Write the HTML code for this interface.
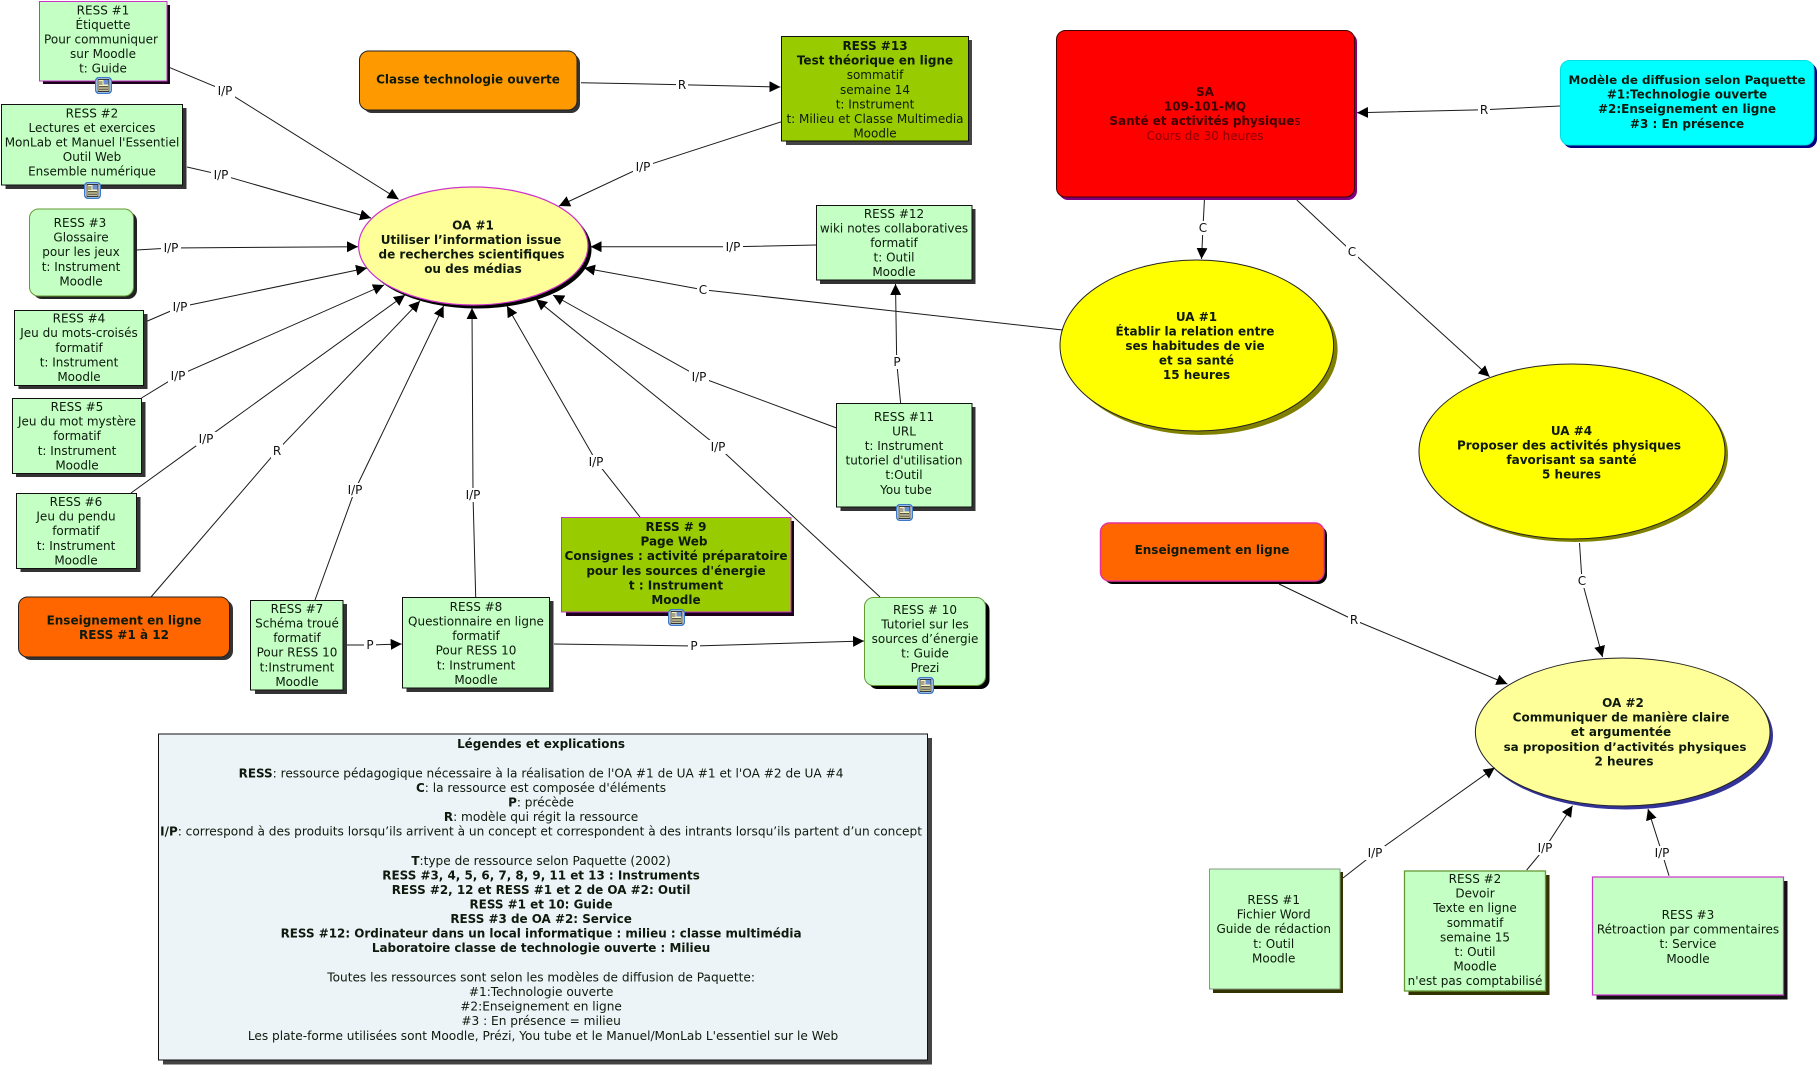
<!DOCTYPE html>
<html lang="fr"><head><meta charset="utf-8"><title>Carte</title>
<style>
html,body{margin:0;padding:0;background:#fff;width:1819px;height:1066px;overflow:hidden}
svg{display:block}
text{font-family:"DejaVu Sans","Liberation Sans",sans-serif;font-size:12px;text-anchor:middle;fill:#0d1a0d}
.b{font-weight:bold}
.l{fill:#111}
.c{fill:none;stroke:#1a1a1a;stroke-width:1;marker-end:url(#a)}
.g{fill:#C4FFC4}
.leg{font-size:12.15px}
.leg .b{font-size:11.95px}
</style></head><body>
<svg xmlns="http://www.w3.org/2000/svg" width="1819" height="1066" viewBox="0 0 1819 1066">
<defs>
<marker id="a" markerUnits="userSpaceOnUse" markerWidth="11" markerHeight="11" refX="10" refY="5" orient="auto" viewBox="0 0 10 10"><path d="M0,0L10,5L0,10z" fill="#000"/></marker>
<symbol id="ic" viewBox="0 0 17 17" width="17" height="17" overflow="visible">
<rect x=".75" y=".75" width="15.500" height="15.500" rx="3" fill="#fff" stroke="#3a78c8" stroke-width="1.500"/>
<rect x="3" y="2.500" width="11" height="12" fill="#f8f4c0" stroke="#222" stroke-width=".9"/>
<rect x="8.500" y="3" width="5" height="4.500" fill="#6a8fd0"/>
<path d="M4,9.500h9M4,11h9M4,12.800h9M4,5h3.500M4,7h3.500" stroke="#222" stroke-width=".8"/>
</symbol>
</defs>

<!-- shapes -->
<rect x="43" y="5" width="127" height="79" fill="#1a001a"/>
<rect x="39.5" y="1.5" width="127.5" height="79.5" class="g" stroke="#cc33cc"/>
<rect x="5.5" y="108" width="181" height="81" fill="#333"/>
<rect x="1.5" y="104.5" width="181" height="80.5" class="g" stroke="#111"/>
<rect x="363" y="54" width="217" height="59" rx="9" fill="#333"/>
<rect x="359.5" y="51" width="217.5" height="59" rx="9" fill="#FF9900" stroke="#222"/>
<rect x="33" y="212" width="104" height="87" rx="9" fill="#222"/>
<rect x="29.5" y="209" width="104" height="87" rx="9" class="g" stroke="#669933"/>
<rect x="18.5" y="314" width="129" height="75" fill="#333"/>
<rect x="14.5" y="310.5" width="129" height="75" class="g" stroke="#111"/>
<rect x="16" y="402" width="129.5" height="75" fill="#333"/>
<rect x="12.5" y="398.5" width="129" height="75" class="g" stroke="#111"/>
<rect x="20.5" y="497" width="120" height="75" fill="#333"/>
<rect x="16.5" y="493.5" width="120" height="75" class="g" stroke="#111"/>
<rect x="22" y="600" width="211" height="60" rx="9" fill="#333"/>
<rect x="18.5" y="597" width="211" height="60" rx="9" fill="#FF6600" stroke="#222"/>
<rect x="255" y="604" width="92" height="90" fill="#333"/>
<rect x="250.5" y="600.5" width="92.5" height="89.5" class="g" stroke="#111"/>
<rect x="406.5" y="601" width="147" height="91" fill="#333"/>
<rect x="402.5" y="597.5" width="147" height="90.5" class="g" stroke="#111"/>
<rect x="566" y="521" width="228" height="95" fill="#1a001a"/>
<rect x="561.5" y="517.5" width="229.5" height="94.5" fill="#99CC00" stroke="#cc33cc"/>
<rect x="868.5" y="601" width="121" height="88" rx="9" fill="#000"/>
<rect x="864.5" y="597.5" width="121" height="88" rx="9" class="g" stroke="#669933"/>
<rect x="840.5" y="407" width="135" height="104" fill="#333"/>
<rect x="836.5" y="403.5" width="135.5" height="103.5" class="g" stroke="#111"/>
<rect x="786" y="40" width="186" height="105" fill="#444"/>
<rect x="781.5" y="36.5" width="187" height="104.5" fill="#99CC00" stroke="#111"/>
<rect x="820" y="209" width="155.5" height="75" fill="#333"/>
<rect x="816.5" y="205.5" width="155.5" height="74.5" class="g" stroke="#111"/>
<rect x="1059" y="33" width="298" height="167" rx="9" fill="#800080"/>
<rect x="1056.5" y="30.5" width="298" height="166.5" rx="9" fill="#FF0000" stroke="#400000"/>
<rect x="1563" y="63" width="254" height="85" rx="9" fill="#000080"/>
<rect x="1560.5" y="60.5" width="253.5" height="84.5" rx="9" fill="#00FFFF" stroke="#00e0e0"/>
<rect x="1104" y="526" width="223" height="58" rx="9" fill="#000"/>
<rect x="1100.5" y="523" width="223.5" height="58" rx="9" fill="#FF6600" stroke="#e6339a" stroke-width="1.5"/>
<rect x="1213" y="872" width="130" height="121" fill="#333300"/>
<rect x="1209.5" y="869" width="130.5" height="120" class="g" stroke="#889988"/>
<rect x="1408.5" y="875" width="141" height="120" fill="#333300"/>
<rect x="1404.5" y="871" width="141" height="120" class="g" stroke="#669933" stroke-width="1.3"/>
<rect x="1596.5" y="881" width="191" height="118.5" fill="#111"/>
<rect x="1592.5" y="877" width="191" height="118" class="g" stroke="#cc33cc" stroke-width="1.2"/>
<rect x="163" y="738" width="769" height="326.5" fill="#444"/>
<rect x="158.5" y="734" width="769" height="326" fill="#EDF4F7" stroke="#111"/>

<ellipse cx="476.8" cy="249.5" rx="114.7" ry="59" fill="#000"/>
<ellipse cx="473.3" cy="246" rx="114.7" ry="59" fill="#FFFF99" stroke="#cc33cc" stroke-width="1.2"/>
<ellipse cx="1200.8" cy="349.5" rx="136.8" ry="85.5" fill="#808000"/>
<ellipse cx="1196.8" cy="345.5" rx="136.8" ry="85.5" fill="#FFFF00" stroke="#222"/>
<ellipse cx="1575" cy="454.5" rx="153" ry="87.5" fill="#808000"/>
<ellipse cx="1572" cy="451.5" rx="153" ry="87.5" fill="#FFFF00" stroke="#222"/>
<ellipse cx="1625.7" cy="735.5" rx="147.3" ry="74" fill="#333399"/>
<ellipse cx="1622.7" cy="732" rx="147.3" ry="74" fill="#FFFF99" stroke="#222"/>

<use href="#ic" x="95" y="77"/>
<use href="#ic" x="84" y="182"/>
<use href="#ic" x="668" y="609"/>
<use href="#ic" x="917" y="677"/>
<use href="#ic" x="896" y="504"/>

<!-- connectors -->
<polyline class="c" points="170,67.7 225,90.7 398.6,199.3"/>
<polyline class="c" points="187,167 220.6,174.7 371,218"/>
<polyline class="c" points="136.4,250 171,248 358,246.7"/>
<polyline class="c" points="147.5,321 180,307 367,268"/>
<polyline class="c" points="141.5,398 178,375.7 384,285"/>
<polyline class="c" points="131,493 206,438.7 405,295"/>
<polyline class="c" points="151,597 277,450.7 420,301"/>
<polyline class="c" points="315,600 355,490 443.6,306"/>
<polyline class="c" points="475.7,597 473,495 472,308"/>
<polyline class="c" points="640,517 596.5,461.7 507,306"/>
<polyline class="c" points="880,597 718,446.7 536,299.3"/>
<polyline class="c" points="836.6,428 699.5,377 553,295"/>
<polyline class="c" points="1062.7,330 703,289.7 584,268"/>
<polyline class="c" points="816.4,245 733,246.7 590.6,246.7"/>
<polyline class="c" points="781.6,121.7 643,166.7 559,206"/>
<polyline class="c" points="581,82.7 682,84.7 780.4,87"/>
<polyline class="c" points="900.6,403 896.7,362 895.5,284"/>
<polyline class="c" points="347,645 369.7,645 401.7,644"/>
<polyline class="c" points="554,644 694,646 864,641"/>
<polyline class="c" points="1204.4,200 1203,227.7 1201.5,259"/>
<polyline class="c" points="1296.8,200 1352,251.7 1489.6,376.7"/>
<polyline class="c" points="1560,106 1484,109.7 1357,112.7"/>
<polyline class="c" points="1579.5,543 1582,580.7 1602.5,657"/>
<polyline class="c" points="1279,584 1354,620 1507.4,684"/>
<polyline class="c" points="1343,878 1375,853 1494.7,767.7"/>
<polyline class="c" points="1526.7,870 1545,848 1572.5,805.7"/>
<polyline class="c" points="1669,875.7 1662,853 1648,809"/>

<!-- connector labels -->
<g fill="#fff">
<rect x="215" y="84" width="20" height="14"/><rect x="211" y="168" width="20" height="14"/>
<rect x="161" y="241" width="20" height="14"/><rect x="170" y="300" width="20" height="14"/>
<rect x="168" y="369" width="20" height="14"/><rect x="196" y="432" width="20" height="14"/>
<rect x="271" y="444" width="12" height="14"/><rect x="345" y="483" width="20" height="14"/>
<rect x="463" y="488" width="20" height="14"/><rect x="586" y="455" width="20" height="14"/>
<rect x="708" y="440" width="20" height="14"/><rect x="689" y="370" width="20" height="14"/>
<rect x="697" y="283" width="12" height="14"/><rect x="723" y="240" width="20" height="14"/>
<rect x="633" y="160" width="20" height="14"/><rect x="676" y="78" width="12" height="14"/>
<rect x="891" y="355" width="12" height="14"/><rect x="364" y="638" width="12" height="14"/>
<rect x="688" y="639" width="12" height="14"/><rect x="1197" y="221" width="12" height="14"/>
<rect x="1346" y="245" width="12" height="14"/><rect x="1478" y="103" width="12" height="14"/>
<rect x="1576" y="574" width="12" height="14"/><rect x="1348" y="613" width="12" height="14"/>
<rect x="1365" y="846" width="20" height="14"/><rect x="1535" y="841" width="20" height="14"/>
<rect x="1652" y="846" width="20" height="14"/>
</g>
<g>
<text class="l" x="225" y="95">I/P</text><text class="l" x="221" y="179">I/P</text>
<text class="l" x="171" y="252">I/P</text><text class="l" x="180" y="311">I/P</text>
<text class="l" x="178" y="380">I/P</text><text class="l" x="206" y="443">I/P</text>
<text class="l" x="277" y="455">R</text><text class="l" x="355" y="494">I/P</text>
<text class="l" x="473" y="499">I/P</text><text class="l" x="596" y="466">I/P</text>
<text class="l" x="718" y="451">I/P</text><text class="l" x="699" y="381">I/P</text>
<text class="l" x="703" y="294">C</text><text class="l" x="733" y="251">I/P</text>
<text class="l" x="643" y="171">I/P</text><text class="l" x="682" y="89">R</text>
<text class="l" x="897" y="366">P</text><text class="l" x="370" y="649">P</text>
<text class="l" x="694" y="650">P</text><text class="l" x="1203" y="232">C</text>
<text class="l" x="1352" y="256">C</text><text class="l" x="1484" y="114">R</text>
<text class="l" x="1582" y="585">C</text><text class="l" x="1354" y="624">R</text>
<text class="l" x="1375" y="857">I/P</text><text class="l" x="1545" y="852">I/P</text>
<text class="l" x="1662" y="857">I/P</text>
</g>

<!-- node text -->
<text><tspan x="103" y="14.5">RESS #1</tspan><tspan x="103" y="29">Étiquette</tspan><tspan x="101" y="43.5">Pour communiquer</tspan><tspan x="103" y="58">sur Moodle</tspan><tspan x="103" y="72.5">t: Guide</tspan></text>
<text><tspan x="92" y="117.5">RESS #2</tspan><tspan x="92" y="132">Lectures et exercices</tspan><tspan x="92" y="146.5">MonLab et Manuel l'Essentiel</tspan><tspan x="92" y="161">Outil Web</tspan><tspan x="92" y="175.5">Ensemble numérique</tspan></text>
<text class="b" x="468" y="83.5">Classe technologie ouverte</text>
<text><tspan x="80" y="227">RESS #3</tspan><tspan x="81" y="241.5">Glossaire</tspan><tspan x="81" y="256">pour les jeux</tspan><tspan x="81" y="271">t: Instrument</tspan><tspan x="81" y="285.5">Moodle</tspan></text>
<text class="b"><tspan x="473" y="229.5">OA #1</tspan><tspan x="471" y="244">Utiliser l’information issue</tspan><tspan x="471.5" y="258.5">de recherches scientifiques</tspan><tspan x="473" y="273">ou des médias</tspan></text>
<text><tspan x="79" y="322.5">RESS #4</tspan><tspan x="79" y="337">Jeu du mots-croisés</tspan><tspan x="79" y="352">formatif</tspan><tspan x="79" y="366.5">t: Instrument</tspan><tspan x="79" y="381">Moodle</tspan></text>
<text><tspan x="77" y="411">RESS #5</tspan><tspan x="77" y="425.5">Jeu du mot mystère</tspan><tspan x="77" y="440">formatif</tspan><tspan x="77" y="455">t: Instrument</tspan><tspan x="77" y="469.5">Moodle</tspan></text>
<text><tspan x="76" y="506">RESS #6</tspan><tspan x="76" y="520.5">Jeu du pendu</tspan><tspan x="76" y="535">formatif</tspan><tspan x="76" y="550">t: Instrument</tspan><tspan x="76" y="564.5">Moodle</tspan></text>
<text class="b"><tspan x="124" y="624.5">Enseignement en ligne</tspan><tspan x="124" y="639">RESS #1 à 12</tspan></text>
<text><tspan x="297" y="613">RESS #7</tspan><tspan x="297" y="627.5">Schéma troué</tspan><tspan x="297" y="642">formatif</tspan><tspan x="297" y="656.5">Pour RESS 10</tspan><tspan x="297" y="671.5">t:Instrument</tspan><tspan x="297" y="686">Moodle</tspan></text>
<text><tspan x="476" y="611">RESS #8</tspan><tspan x="476" y="625.5">Questionnaire en ligne</tspan><tspan x="476" y="640">formatif</tspan><tspan x="476" y="654.5">Pour RESS 10</tspan><tspan x="476" y="669.5">t: Instrument</tspan><tspan x="476" y="684">Moodle</tspan></text>
<text class="b"><tspan x="676" y="531">RESS # 9</tspan><tspan x="674" y="545.5">Page Web</tspan><tspan x="676" y="560">Consignes : activité préparatoire</tspan><tspan x="676" y="575">pour les sources d'énergie</tspan><tspan x="676" y="589.5">t : Instrument</tspan><tspan x="676" y="604">Moodle</tspan></text>
<text><tspan x="925" y="614">RESS # 10</tspan><tspan x="925" y="628.5">Tutoriel sur les</tspan><tspan x="925" y="643">sources d’énergie</tspan><tspan x="925" y="657.5">t: Guide</tspan><tspan x="925" y="672">Prezi</tspan></text>
<text><tspan x="904" y="421">RESS #11</tspan><tspan x="904" y="435.5">URL</tspan><tspan x="904" y="450">t: Instrument</tspan><tspan x="904" y="464.5">tutoriel d'utilisation</tspan><tspan x="904" y="479">t:Outil</tspan><tspan x="906" y="494">You tube</tspan></text>
<text><tspan class="b" x="875" y="50">RESS #13</tspan><tspan class="b" x="875" y="64.5">Test théorique en ligne</tspan><tspan x="875" y="79">sommatif</tspan><tspan x="875" y="94">semaine 14</tspan><tspan x="875" y="108.5">t: Instrument</tspan><tspan x="875" y="123">t: Milieu et Classe Multimedia</tspan><tspan x="875" y="137.5">Moodle</tspan></text>
<text><tspan x="894" y="218">RESS #12</tspan><tspan x="894" y="232.5">wiki notes collaboratives</tspan><tspan x="894" y="247">formatif</tspan><tspan x="894" y="261.5">t: Outil</tspan><tspan x="894" y="276">Moodle</tspan></text>
<text style="fill:#400000"><tspan class="b" x="1205" y="96">SA</tspan><tspan class="b" x="1205" y="110.5">109-101-MQ</tspan><tspan x="1205" y="125"><tspan class="b">Santé et activités physique</tspan>s</tspan><tspan x="1205" y="140" style="fill:#880000">Cours de 30 heures</tspan></text>
<text class="b"><tspan x="1687" y="84" style="font-size:11.9px">Modèle de diffusion selon Paquette</tspan><tspan x="1687" y="98.5">#1:Technologie ouverte</tspan><tspan x="1687" y="113">#2:Enseignement en ligne</tspan><tspan x="1687" y="128">#3 : En présence</tspan></text>
<text class="b"><tspan x="1196.5" y="321">UA #1</tspan><tspan x="1195" y="335.5">Établir la relation entre</tspan><tspan x="1195" y="350">ses habitudes de vie</tspan><tspan x="1196.5" y="364.5">et sa santé</tspan><tspan x="1196.5" y="379">15 heures</tspan></text>
<text class="b"><tspan x="1571.5" y="435">UA #4</tspan><tspan x="1569" y="449.5">Proposer des activités physiques</tspan><tspan x="1571.5" y="464">favorisant sa santé</tspan><tspan x="1571.5" y="478.5">5 heures</tspan></text>
<text class="b" x="1212" y="554">Enseignement en ligne</text>
<text class="b"><tspan x="1623" y="707">OA #2</tspan><tspan x="1621" y="721.5">Communiquer de manière claire</tspan><tspan x="1621" y="736">et argumentée</tspan><tspan x="1625" y="751" style="font-size:11.9px">sa proposition d’activités physiques</tspan><tspan x="1624" y="765.5">2 heures</tspan></text>
<text><tspan x="1273.7" y="904">RESS #1</tspan><tspan x="1273.7" y="918.5">Fichier Word</tspan><tspan x="1273.7" y="933">Guide de rédaction</tspan><tspan x="1273.7" y="948">t: Outil</tspan><tspan x="1273.7" y="962.5">Moodle</tspan></text>
<text><tspan x="1475" y="883">RESS #2</tspan><tspan x="1475" y="897.5">Devoir</tspan><tspan x="1475" y="912">Texte en ligne</tspan><tspan x="1475" y="927">sommatif</tspan><tspan x="1475" y="941.5">semaine 15</tspan><tspan x="1475" y="956">t: Outil</tspan><tspan x="1475" y="970.5">Moodle</tspan><tspan x="1475" y="985">n'est pas comptabilisé</tspan></text>
<text><tspan x="1688" y="919">RESS #3</tspan><tspan x="1688" y="933.5">Rétroaction par commentaires</tspan><tspan x="1688" y="948">t: Service</tspan><tspan x="1688" y="963">Moodle</tspan></text>

<!-- legend -->
<text class="leg">
<tspan class="b" x="543" y="748">Légendes et explications</tspan>
<tspan x="543" y="777.5"><tspan class="b">RESS</tspan>: ressource pédagogique nécessaire à la réalisation de l'OA #1 de UA #1 et l'OA #2 de UA #4</tspan>
<tspan x="543" y="792"><tspan class="b">C</tspan>: la ressource est composée d'éléments</tspan>
<tspan x="543" y="806.5"><tspan class="b">P</tspan>: précède</tspan>
<tspan x="543" y="821"><tspan class="b">R</tspan>: modèle qui régit la ressource</tspan>
<tspan x="543" y="835.5"><tspan class="b">I/P</tspan>: correspond à des produits lorsqu’ils arrivent à un concept et correspondent à des intrants lorsqu’ils partent d’un concept</tspan>
<tspan x="543" y="865"><tspan class="b">T</tspan>:type de ressource selon Paquette (2002)</tspan>
<tspan class="b" x="543" y="879.5">RESS #3, 4, 5, 6, 7, 8, 9, 11 et 13 : Instruments</tspan>
<tspan class="b" x="543" y="894">RESS #2, 12 et RESS #1 et 2 de OA #2: Outil</tspan>
<tspan class="b" x="543" y="908.5">RESS #1 et 10: Guide</tspan>
<tspan class="b" x="543" y="923">RESS #3 de OA #2: Service</tspan>
<tspan class="b" x="543" y="937.5">RESS #12: Ordinateur dans un local informatique : milieu : classe multimédia</tspan>
<tspan class="b" x="543" y="952">Laboratoire classe de technologie ouverte : Milieu</tspan>
<tspan x="543" y="981.5">Toutes les ressources sont selon les modèles de diffusion de Paquette:</tspan>
<tspan x="543" y="996">#1:Technologie ouverte</tspan>
<tspan x="543" y="1010.5">#2:Enseignement en ligne</tspan>
<tspan x="543" y="1025">#3 : En présence = milieu</tspan>
<tspan x="543" y="1040">Les plate-forme utilisées sont Moodle, Prézi, You tube et le Manuel/MonLab L'essentiel sur le Web</tspan>
</text>
</svg>
</body></html>
